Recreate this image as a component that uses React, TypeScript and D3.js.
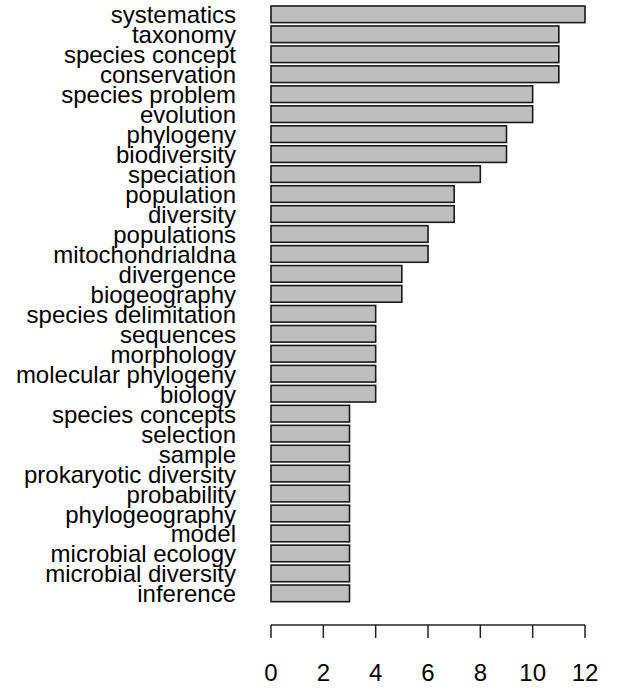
import React from "react";
import * as d3 from "d3";

const categories = [
  "systematics", "taxonomy", "species concept", "conservation", "species problem",
  "evolution", "phylogeny", "biodiversity", "speciation", "population",
  "diversity", "populations", "mitochondrialdna", "divergence", "biogeography",
  "species delimitation", "sequences", "morphology", "molecular phylogeny", "biology",
  "species concepts", "selection", "sample", "prokaryotic diversity", "probability",
  "phylogeography", "model", "microbial ecology", "microbial diversity", "inference",
];
const counts = [12, 11, 11, 11, 10, 10, 9, 9, 8, 7, 7, 6, 6, 5, 5, 4, 4, 4, 4, 4, 3, 3, 3, 3, 3, 3, 3, 3, 3, 3];
const xTicks = [0, 2, 4, 6, 8, 10, 12];

const W = 619;
const H = 688;

export default function App() {
  const n = categories.length;
  const x = d3.scaleLinear().domain([0, 12]).range([271, 585]);
  // R barplot layout: width 1, space 0.2; bar i from bottom occupies [0.2+1.2i, 1.2+1.2i]
  const y = d3.scaleLinear().domain([0.2, 0.2 + 1.2 * n - 0.2]).range([601.7, 6]);
  const font = "'Liberation Sans', Arial, sans-serif";
  return (
    <svg width={W} height={H} style={{ position: "absolute", left: 0, top: 0, background: "#fff" }}>
      {categories.map((c, k) => {
        const i = n - 1 - k; // from bottom
        const y0 = y(0.2 + 1.2 * i + 1);
        const y1 = y(0.2 + 1.2 * i);
        const cy = (y0 + y1) / 2;
        return (
          <g key={c}>
            <rect
              x={x(0)}
              y={y0}
              width={x(counts[k]) - x(0)}
              height={y1 - y0}
              fill="#bebebe"
              stroke="#1a1a1a"
              strokeWidth={1.6}
            />
            <text
              x={236}
              y={cy + 9}
              textAnchor="end"
              fontFamily={font}
              fontSize={24}
              fill="#000"
            >
              {c}
            </text>
          </g>
        );
      })}
      <line x1={x(0)} x2={x(12)} y1={625} y2={625} stroke="#222" strokeWidth={1.5} />
      {xTicks.map((t) => (
        <g key={t}>
          <line x1={x(t)} x2={x(t)} y1={625} y2={638} stroke="#222" strokeWidth={1.5} />
          <text x={x(t)} y={681} textAnchor="middle" fontFamily={font} fontSize={24} fill="#000">
            {t}
          </text>
        </g>
      ))}
    </svg>
  );
}
